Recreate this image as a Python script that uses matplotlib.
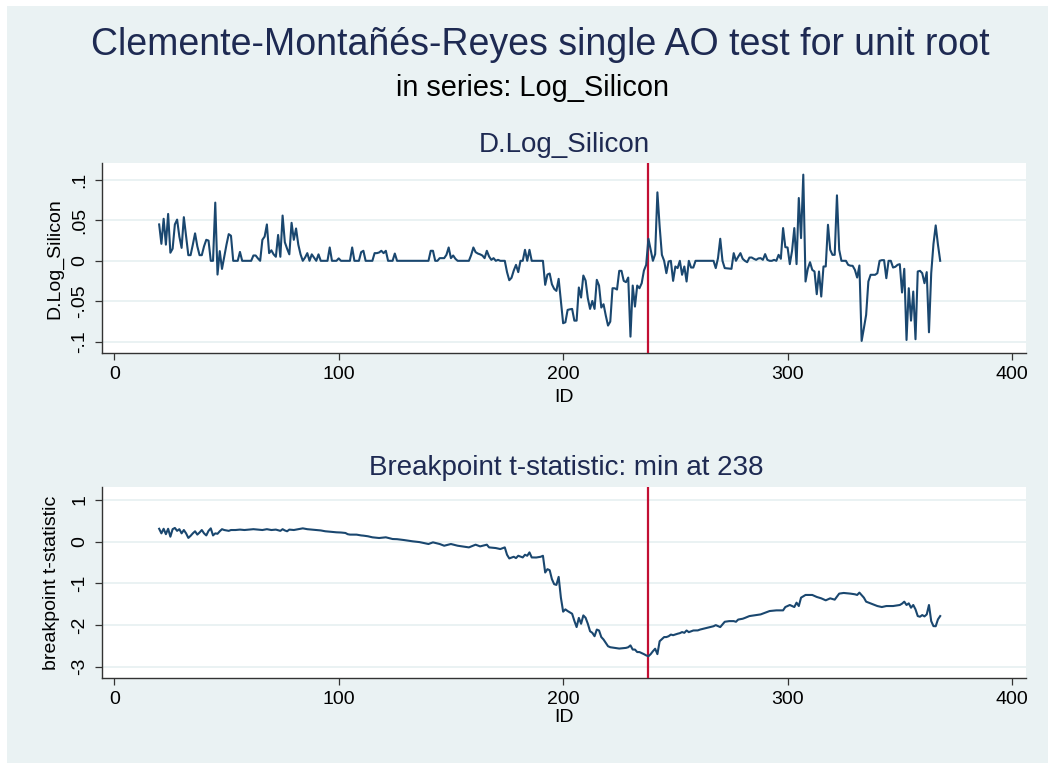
import numpy as np
import matplotlib
matplotlib.use("Agg")
import matplotlib.pyplot as plt
from matplotlib.patches import Rectangle

plt.rcParams['font.family'] = ['Liberation Sans', 'DejaVu Sans']

# D.Log_Silicon (first difference) at its vertices
d_id = [20, 21, 22, 23, 24, 25, 26, 27, 28, 29, 30, 31, 32, 33, 34, 35, 36, 37, 38, 39,
        40, 41, 42, 43, 44, 45, 46, 47, 48, 49, 50, 51, 52, 53, 55, 56, 57, 61, 62, 63,
        64, 65, 66, 67, 68, 69, 70, 71, 72, 73, 74, 75, 76, 77, 78, 79, 80, 81, 82, 83,
        84, 85, 86, 87, 88, 89, 90, 91, 92, 95, 96, 97, 99, 100, 101, 105, 106, 107, 109, 110,
        111, 112, 115, 116, 117, 118, 119, 120, 121, 122, 124, 125, 126, 140, 141, 142, 143, 144, 145, 147,
        148, 149, 150, 151, 152, 153, 158, 159, 160, 161, 162, 163, 164, 165, 166, 167, 168, 169, 170, 171,
        172, 174, 175, 176, 177, 178, 179, 180, 181, 182, 183, 184, 185, 186, 191, 192, 193, 194, 195, 196,
        197, 198, 199, 200, 201, 202, 203, 204, 205, 206, 207, 208, 209, 210, 211, 212, 213, 214, 215, 216,
        217, 218, 219, 220, 221, 222, 223, 224, 225, 226, 227, 228, 229, 230, 231, 232, 233, 234, 235, 236,
        237, 238, 239, 240, 241, 242, 243, 244, 245, 246, 247, 248, 249, 250, 251, 252, 253, 254, 255, 256,
        257, 258, 259, 267, 268, 269, 270, 271, 272, 275, 276, 277, 278, 279, 280, 281, 282, 283, 284, 285,
        286, 287, 288, 289, 290, 291, 292, 293, 294, 295, 296, 297, 298, 299, 300, 301, 302, 303, 304, 305,
        306, 307, 308, 309, 310, 311, 312, 313, 314, 315, 316, 317, 318, 319, 320, 321, 322, 323, 324, 326,
        327, 328, 329, 330, 331, 332, 333, 334, 335, 336, 337, 339, 340, 341, 342, 343, 344, 345, 346, 347,
        348, 349, 350, 351, 352, 353, 354, 355, 356, 357, 358, 359, 360, 361, 362, 363, 364, 365, 366, 367,
        368]
d_val = [.045, .021, .052, .020, .058, .010, .015, .045, .051, .030, .016, .054, .030, .007, .007, .020, .034, .018, .007, .007,
         .018, .026, .025, 0, 0, .072, -.017, .012, -.010, .005, .020, .033, .031, 0, 0, .011, 0, 0, .0066, .0066,
         .003, 0, .026, .030, .045, .0095, .013, .008, .005, .032, .005, .056, .023, .015, .008, .047, .026, .040, .020, .008,
         0, .004, .0095, 0, .008, .004, 0, .008, 0, 0, .0165, 0, 0, .003, 0, 0, .0165, 0, 0, .0107,
         .0124, 0, 0, .0095, .0095, .0103, .0124, .0095, .0124, 0, 0, .009, 0, 0, .0124, .0124, 0, 0, .0033, .0033,
         .0074, .0165, .0033, .0066, .0025, 0, 0, .007, .0165, .0107, .009, .008, .0066, .0033, .0124, .0054, .0012, .0033, 0, .0012,
         0, 0, -.014, -.024, -.021, -.012, -.005, -.014, 0, 0, .0136, 0, .0136, 0, 0, -.0297, -.017, -.0157, -.029, -.0347,
         -.0372, -.0223, -.050, -.0772, -.076, -.0607, -.0600, -.0595, -.074, -.074, -.033, -.0454, -.0182, -.0244, -.0463, -.0595, -.0496, -.0595, -.0235, -.0306,
         -.0578, -.0537, -.0677, -.0801, -.0752, -.0339, -.034, -.0355, -.0124, -.0124, -.0248, -.0264, -.0207, -.0938, -.0306, -.0566, -.0306, -.0339, -.0277, -.012,
         -.005, .0273, .0136, 0, .0083, .0847, .0425, .0074, 0, -.0153, -.0008, 0, -.0248, -.007, -.009, 0, -.0173, -.007, -.0256, 0,
         -.0083, -.0083, 0, 0, -.009, .0033, .0273, 0, -.009, -.0099, .0095, 0, .005, .0095, .0025, 0, -.0017, .004, .0041, .0025,
         .0012, .003, .0033, .0012, .0083, .0012, 0, 0, .0012, 0, .0074, .0025, .0405, .0169, .0165, -.0041, .0124, .0405, -.0041, .0777,
         .0281, .1066, -.0256, -.010, -.0017, -.0112, -.0132, -.0413, -.0132, -.0442, -.007, -.007, .0446, .0136, .0074, .0074, .081, .0136, 0, 0,
         -.005, -.006, -.0062, -.0112, -.0207, -.0058, -.0991, -.0834, -.0669, -.0256, -.0173, -.0173, -.0153, 0, .0008, .0008, -.0215, 0, 0, -.0083,
         -.0074, -.005, -.0041, -.0392, -.0099, -.0979, -.0339, -.074, -.038, -.097, -.0132, -.0124, -.0153, -.0277, -.014, -.0884, -.0153, .0207, .0438, .020,
         0]

# breakpoint t-statistic
t_id = [20, 21, 22, 23, 24, 25, 26, 27, 28, 29, 30, 31, 32, 33, 34, 35, 36, 37, 38, 39,
        40, 41, 42, 43, 44, 45, 46, 47, 48, 49, 50, 51, 52, 54, 56, 58, 60, 62, 64, 66,
        68, 70, 72, 74, 75, 76, 77, 78, 80, 82, 84, 86, 88, 90, 92, 94, 96, 99, 101, 103,
        104, 105, 108, 110, 111, 113, 115, 118, 121, 124, 126, 129, 133, 136, 138, 140, 142, 145, 147, 150,
        153, 156, 158, 161, 163, 166, 167, 170, 172, 174, 175, 176, 178, 179, 180, 182, 183, 184, 185, 186,
        188, 190, 191, 192, 193, 194, 195, 196, 197, 198, 199, 200, 201, 202, 204, 205, 206, 207, 208, 209,
        210, 211, 212, 213, 214, 215, 216, 217, 218, 219, 220, 221, 223, 225, 228, 229, 230, 231, 232, 233,
        234, 236, 237, 238, 239, 240, 241, 242, 243, 244, 245, 246, 247, 248, 249, 251, 252, 253, 254, 255,
        256, 258, 260, 261, 263, 264, 266, 267, 268, 270, 271, 272, 274, 276, 277, 278, 280, 281, 283, 286,
        288, 290, 292, 295, 298, 299, 301, 303, 304, 305, 306, 308, 311, 313, 315, 317, 319, 321, 323, 325,
        328, 330, 331, 332, 334, 335, 338, 340, 342, 344, 347, 350, 351, 352, 353, 354, 355, 356, 357, 358,
        359, 360, 361, 362, 363, 364, 365, 366, 367, 368]
t_val = [.31, .20, .31, .18, .31, .12, .30, .33, .26, .30, .20, .28, .20, .09, .14, .20, .25, .17, .22, .28,
         .20, .15, .26, .32, .15, .20, .19, .25, .30, .28, .27, .26, .28, .28, .29, .28, .29, .30, .29, .28,
         .30, .28, .29, .26, .30, .27, .25, .29, .28, .30, .32, .30, .29, .28, .27, .25, .24, .225, .22, .209,
         .18, .17, .169, .15, .145, .13, .105, .088, .105, .064, .06, .04, .008, -.01, -.032, -.056, -.016, -.056, -.097, -.056,
         -.097, -.121, -.137, -.072, -.113, -.072, -.137, -.153, -.177, -.137, -.314, -.402, -.362, -.394, -.338, -.378, -.314, -.338, -.257, -.378,
         -.38, -.362, -.338, -.74, -.66, -.684, -.9, -1.02, -1.038, -.845, -1.344, -1.68, -1.625, -1.665, -1.73, -1.9, -2.05, -1.83, -1.971, -1.77,
         -1.826, -1.971, -2.15, -2.188, -2.27, -2.11, -2.132, -2.29, -2.349, -2.43, -2.51, -2.534, -2.55, -2.566, -2.55, -2.534, -2.49, -2.59, -2.59, -2.65,
         -2.65, -2.7, -2.73, -2.75, -2.7, -2.63, -2.57, -2.7, -2.39, -2.34, -2.29, -2.29, -2.27, -2.23, -2.245, -2.21, -2.196, -2.17, -2.188, -2.132,
         -2.172, -2.132, -2.13, -2.11, -2.084, -2.07, -2.043, -2.03, -2.003, -2.05, -1.987, -1.923, -1.907, -1.907, -1.923, -1.87, -1.85, -1.83, -1.786, -1.762,
         -1.746, -1.706, -1.665, -1.649, -1.649, -1.569, -1.52, -1.569, -1.464, -1.545, -1.344, -1.279, -1.279, -1.327, -1.36, -1.408, -1.36, -1.392, -1.247, -1.231,
         -1.247, -1.263, -1.279, -1.223, -1.344, -1.44, -1.504, -1.545, -1.569, -1.545, -1.545, -1.52, -1.488, -1.44, -1.52, -1.48, -1.585, -1.52, -1.625, -1.786,
         -1.802, -1.762, -1.794, -1.746, -1.52, -1.907, -2.027, -2.03, -1.866, -1.786]

break_id = 238
x_ticks = [0, 100, 200, 300, 400]
d_ticks = [-.1, -.05, 0, .05, .1]
d_tick_labels = ['-.1', '-.05', '0', '.05', '.1']
t_ticks = [-3, -2, -1, 0, 1]
t_tick_labels = ['-3', '-2', '-1', '0', '1']

BG = '#eaf2f3'
NAVY = '#1a476f'
RED = '#c20f33'
TITLE_C = '#1e2a52'
W, H = 1055, 767

fig = plt.figure(figsize=(W / 100, H / 100), dpi=100, facecolor='white')
fig.patches.append(Rectangle((7 / W, 4 / H), (W - 14) / W, (H - 10) / H,
                             transform=fig.transFigure, facecolor=BG,
                             edgecolor='none', zorder=-10))


def style_axis(ax, yticks, ylabels, ylim, ylabel):
    ax.set_facecolor('white')
    ax.set_xlim(-5.6, 406.1)
    ax.set_ylim(*ylim)
    for s in ('top', 'right'):
        ax.spines[s].set_visible(False)
    for s in ('left', 'bottom'):
        ax.spines[s].set_color('#333333')
        ax.spines[s].set_linewidth(1.0)
    ax.set_xticks(x_ticks)
    ax.set_yticks(yticks)
    ax.set_yticklabels(ylabels, rotation=90, va='center')
    ax.tick_params(direction='out', length=5, width=0.9, color='#333333',
                   labelsize=14, labelcolor='black')
    ax.tick_params(axis='x', pad=4.5)
    ax.tick_params(axis='y', pad=4.5)
    ax.grid(axis='y', color=BG, linewidth=1.4)
    ax.set_axisbelow(True)
    ax.set_xlabel('ID', fontsize=14, color='black')
    ax.set_ylabel(ylabel, fontsize=14, color='black')
    ax.axvline(break_id, color=RED, linewidth=1.6, zorder=3)


ax1 = fig.add_axes([101.7 / W, 1 - 353.3 / H, 924 / W, 190.3 / H])
ax1.plot(d_id, d_val, color=NAVY, linewidth=1.5, zorder=4)
style_axis(ax1, d_ticks, d_tick_labels, (-0.1144, 0.121), 'D.Log_Silicon')
ax1.xaxis.set_label_coords(0.5, -0.23)
ax1.xaxis.label.set_va('center')
ax1.yaxis.set_label_coords(-0.0505, 0.5)
ax1.yaxis.label.set_va('center')

ax2 = fig.add_axes([101.7 / W, 1 - 678.3 / H, 924 / W, 191.6 / H])
ax2.plot(t_id, t_val, color=NAVY, linewidth=1.5, zorder=4)
style_axis(ax2, t_ticks, t_tick_labels, (-3.28, 1.32), 'breakpoint t-statistic')
ax2.xaxis.set_label_coords(0.5, -0.202)
ax2.xaxis.label.set_va('center')
ax2.yaxis.set_label_coords(-0.0538, 0.5)
ax2.yaxis.label.set_va('center')

fig.text(540 / W, 1 - 45 / H, 'Clemente-Montañés-Reyes single AO test for unit root',
         ha='center', va='center', fontsize=27, color=TITLE_C)
fig.text(533 / W, 1 - 88 / H, 'in series: Log_Silicon',
         ha='center', va='center', fontsize=20.8, color='black')
fig.text(564 / W, 1 - 145 / H, 'D.Log_Silicon',
         ha='center', va='center', fontsize=20, color=TITLE_C)
fig.text(566 / W, 1 - 468 / H, 'Breakpoint t-statistic: min at 238',
         ha='center', va='center', fontsize=20, color=TITLE_C)

fig.savefig('out.png', dpi=100, facecolor=fig.get_facecolor())
